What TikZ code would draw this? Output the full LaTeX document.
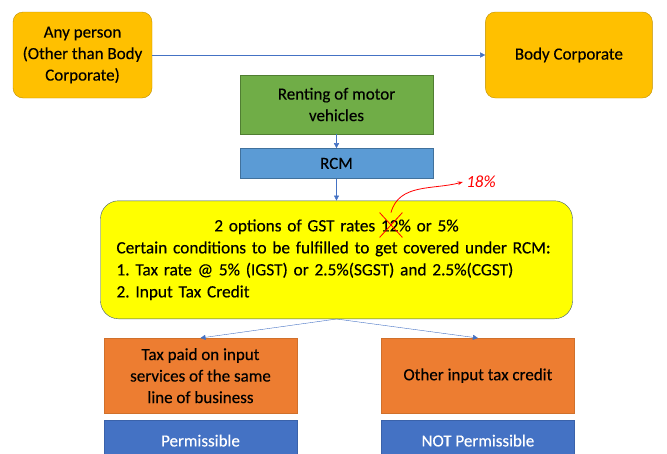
\documentclass[tikz,border=0pt]{standalone}
\usepackage{fontspec}
\setmainfont{Carlito}[UprightFeatures={FakeBold=0.25}]
\frenchspacing
\usetikzlibrary{positioning, arrows.meta, shapes.misc}
\definecolor{partygold}{HTML}{FFC000}
\definecolor{partyedge}{HTML}{BF9000}
\definecolor{servicegreen}{HTML}{70AD47}
\definecolor{serviceedge}{HTML}{507E32}
\definecolor{rcmblue}{HTML}{5B9BD5}
\definecolor{rcmedge}{HTML}{41719C}
\definecolor{rateyellow}{HTML}{FFFF00}
\definecolor{rateedge}{HTML}{3E5A70}
\definecolor{itcorange}{HTML}{ED7D31}
\definecolor{itcedge}{HTML}{D0702B}
\definecolor{verdictblue}{HTML}{4472C4}
\definecolor{verdictedge}{HTML}{3A62AA}
\definecolor{linkblue}{HTML}{4472C4}
\tikzset{basic/.style={draw,align=center,font=\fontsize{17}{21.5}\selectfont,inner sep=3pt}}
\tikzset{party/.style={basic,rounded corners=10pt,fill=partygold,draw=partyedge,minimum height=86pt}}
\tikzset{service/.style={basic,fill=servicegreen,draw=serviceedge,minimum width=193pt,minimum height=59pt}}
\tikzset{mechanism/.style={basic,fill=rcmblue,draw=rcmedge,minimum width=193pt,minimum height=30pt}}
\tikzset{rates/.style={basic,align=left,font=\fontsize{17.3}{22}\selectfont,rounded corners=18pt,fill=rateyellow,draw=rateedge,minimum width=472pt,minimum height=118pt,text width=440pt,inner sep=16pt}}
\tikzset{itc/.style={basic,fill=itcorange,draw=itcedge,minimum width=193pt,minimum height=75pt}}
\tikzset{verdict/.style={basic,fill=verdictblue,draw=verdictedge,text=white,minimum width=193pt,minimum height=40pt}}
\tikzset{link/.style={draw=linkblue,->}}

\begin{document}
\begin{tikzpicture}[>={Triangle[length=5pt,width=5pt]}]
\useasboundingbox (0,0) rectangle (667pt,-453pt);
\clip (0,0) rectangle (667pt,-453pt);

% Define parties
\node[party,minimum width=139pt] (person) at (82.5pt,-55pt) {Any person\\(Other than Body\\Corporate)};
\node[party,minimum width=167pt,right=333pt of person] (bodycorp) {Body Corporate};
\path[link] (person) -- (bodycorp);

% Service and mechanism
\node[service] (renting) at (336.5pt,-104.5pt) {Renting of motor\\vehicles};
\node[mechanism,below=14pt of renting] (rcm) {RCM};
\path[link] (renting) -- (rcm);

% Rate options
\node[rates,below=22pt of rcm] (options) {\makebox[\linewidth]{2 options of GST rates 12\% or 5\%}\\
Certain conditions to be fulfilled to get covered under RCM:\\
1. Tax rate @ 5\% (IGST) or 2.5\%(SGST) and 2.5\%(CGST)\\
2. Input Tax Credit};
\path[link] (rcm) -- (options);

% Hand-written correction
\node[cross out,draw=red,line width=0.8pt,minimum width=22pt,minimum height=24pt] (cut) at (391pt,-225pt) {};
\node[text=red,font=\fontsize{17}{17}\selectfont\itshape] (newrate) at (481pt,-182pt) {18\%};
\path[draw=red,line width=0.8pt,-{Stealth[length=5pt]}] (cut.north) to[out=75,in=195] (newrate.west);

% Input tax credit boxes
\node[itc,anchor=north] (samebiz) at (200.5pt,-338pt) {Tax paid on input\\services of the same\\line of business};
\node[itc,right=84pt of samebiz] (otheritc) {Other input tax credit};
\path[link] (options.south) -- (samebiz.north);
\path[link] (options.south) -- (otheritc.north);

% Verdicts
\node[verdict,below=7pt of samebiz] (permit) {Permissible};
\node[verdict,below=7pt of otheritc] (nopermit) {NOT Permissible};

\end{tikzpicture}
\end{document}
